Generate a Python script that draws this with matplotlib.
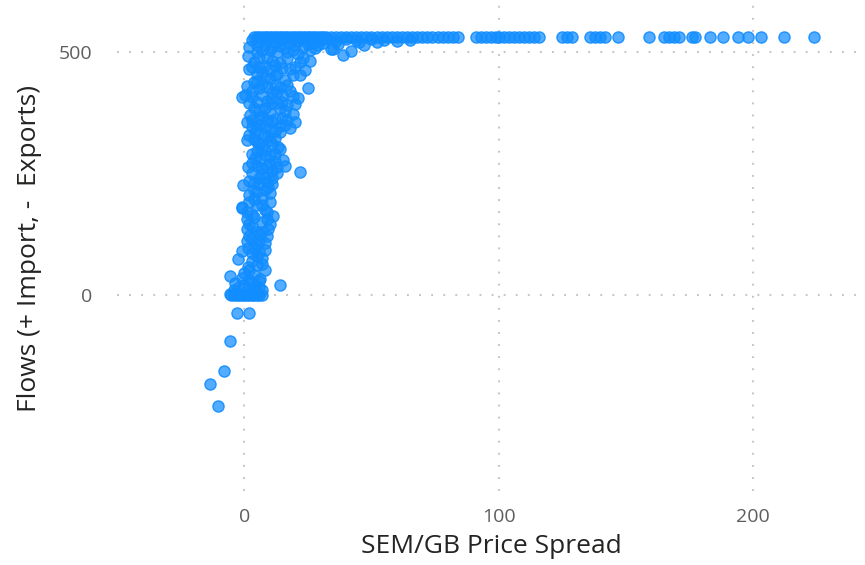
import matplotlib
matplotlib.use("Agg")
import matplotlib.pyplot as plt

# ---- data ----
cap_spread = [4, 5, 6, 7, 8, 9, 10, 11, 12, 13, 14, 15, 16, 17, 18, 19, 20, 21, 22, 23,
              24, 25, 26, 27, 28, 29, 30, 31, 32, 34, 36, 38, 40, 42, 44, 46, 48, 50, 52,
              54, 56, 58, 60, 62, 64, 66, 68, 70, 72, 74, 76, 78, 80, 82, 84, 91, 93, 95,
              97, 99, 100, 102, 104, 106, 108, 110, 112, 114, 116, 125, 127, 129, 136,
              138, 140, 142, 147, 159, 165, 167, 169, 171, 176, 177, 183, 188, 194, 198,
              203, 212, 224]
cap_flow = [530, 530, 530, 530, 530, 530, 530, 530, 530, 530, 530, 530, 530,
            530, 530, 530, 530, 530, 530, 530, 530, 530, 530, 530, 530, 530, 530, 530,
            530, 530, 530, 530, 530, 530, 530, 530, 530, 530, 530, 530, 530, 530, 530,
            530, 530, 530, 530, 530, 530, 530, 530, 530, 530, 530, 530, 530, 530, 530,
            530, 530, 530, 530, 530, 530, 530, 530, 530, 530, 530, 530, 530, 530, 530,
            530, 530, 530, 530, 530, 530, 530, 530, 530, 530, 530, 530, 530, 530, 530,
            530, 530, 530]

upper_spread = [3, 6, 9, 12, 15, 18, 21, 24, 27, 30, 33, 36, 40, 44, 50, 55, 8, 14, 20, 26,
                35, 39, 42, 47, 28, 34, 5, 1.6, 10, 17,
                4, 9, 12, 17, 22, 26, 7, 15, 19, 22, 4, 10, 13, 2, 6, 20, 24, 11, 8, 16,
                2, 5, 7, 11, 13, 16, 19, 23, 25, 29, 31, 37, 45, 52, 60, 65,
                3, 6, 10, 14, 18, 21, 23, 8, 12, 5]
upper_flow = [525, 522, 526, 520, 524, 518, 522, 526, 520, 524, 527, 522, 526, 524, 527, 525,
              515, 512, 514, 504, 506, 494, 502, 514, 508, 506, 500, 492, 505, 500,
              479, 488, 473, 488, 479, 481, 459, 467, 452, 452, 438, 445, 455, 465, 470,
              470, 462, 482, 448, 442,
              510, 515, 505, 510, 500, 508, 505, 510, 516, 515, 518, 517, 520, 520, 522, 524,
              470, 490, 462, 478, 465, 495, 488, 472, 452, 455]

mid_spread = [25, 0.4, -0.8, 3, 5, 21, 17, 2.4, 19, 8, 11, 15, 6, 9, 13, 18, 12, 4, 16, 10,
              7, 14, 20,
              1.2, 20, 18, 1.2, 12, 13.4, 7, 4.3, 6, 9, 15, 10, 3, 8, 14, 11, 5, 16, 12, 7, 9,
              1, 3, 5, 7, 9, 11, 13, 15, 17, 19, 2, 6, 10, 14, 3, 6, 11, 14, 17, 8]
mid_flow = [426, 411, 407, 407, 397, 405, 390, 370, 372, 384, 417, 411, 425, 400, 395, 420,
            432, 385, 378, 375, 412, 428, 392,
            355, 355, 343, 318, 322, 304, 302, 335, 350, 360, 365, 340, 345, 330, 335, 310,
            315, 350, 362, 368, 325,
            430, 420, 440, 435, 428, 405, 418, 398, 432, 410, 395, 380, 392, 385, 360, 365,
            355, 348, 360, 345]

low_spread = [15.3, 16, 1.6, 22, 13, 11, -0.4, 9.4, 4.3, 5, 8, 10, 3, 6, 12, 7, 4, 10, 2, 8,
              6, 11, 5, 9, 3, 7,
              -0.8, -0.8, 11.4, 9.4, 1.2, 8, 2, 5, 8, 4, 7, 2, 6, 3, 9, 5, 10, 1, 4, 7, 3, 6,
              2, 4, 6, 8, 10, 12, 14, 3, 5, 7, 9, 11, 2, 4, 6, 8, 13, 10, 12, 5,
              1, 3, 5, 7, 9, 2, 4, 6, 8, 1, 3, 5, 7, 2, 9, 10]
low_flow = [277, 266, 262, 252, 250, 240, 225, 221, 281, 295, 288, 270, 250, 240, 290, 260,
            230, 210, 205, 215, 275, 255, 212, 232, 272, 200,
            180, 178, 163, 136, 136, 107, 190, 185, 175, 160, 150, 145, 125, 115, 120, 105,
            190, 170, 198, 130, 165, 110,
            330, 320, 310, 298, 285, 275, 300, 290, 265, 248, 262, 228, 235, 215, 228, 242,
            262, 318, 338, 342,
            155, 140, 130, 185, 155, 120, 95, 88, 92, 110, 70, 80, 62, 50, 170, 145]

base_spread = [1.6, -2.4, 7, -5.5, 6.3, 14, -5.5, 4.3, -3.5, 1.6, 3, 5, 0, 2, 4, 8, -1, 6, 0,
               3, -5, -4, -3, -2, -1, 0, 1, 2, 3, 4, 5, 6, 7,
               -4, -2, 1, 3, 5, 7, -1, 4, 6,
               2, -3, -5.5, -8, -13.4, -10.2]
base_flow = [97, 74, 76, 39, 33, 19, 2, 2, 23, 56, 85, 60, 45, 30, 40, 50, 90, 15, 20, 10,
             0, 0, 0, 0, 0, 0, 0, 0, 0, 0, 0, 0, 0,
             10, 15, 8, 25, 5, 10, 35, 15, 28,
             -37, -37, -95, -157, -184, -229]

x_ticks = [0, 100, 200]
y_ticks = [0, 500]
x_label = "SEM/GB Price Spread"
y_label = "Flows (+ Import, -  Exports)"

spread = cap_spread + upper_spread + mid_spread + low_spread + base_spread
flow = cap_flow + upper_flow + mid_flow + low_flow + base_flow

# ---- figure ----
plt.rcParams['font.family'] = ['Open Sans', 'DejaVu Sans']
fig = plt.figure(figsize=(8.65, 5.65), dpi=100)
ax = fig.add_axes([117 / 865, 1 - 491 / 565, (865 - 117) / 865, (491 - 5) / 565])

ax.set_xlim(-50, 244)
ax.set_ylim(-405, 597)

for xv in x_ticks:
    ax.axvline(xv, color='#C8C6C4', lw=1.5, ls=(0, (0.9, 4.9)), zorder=0)
for yv in y_ticks:
    ax.axhline(yv, color='#C8C6C4', lw=1.5, ls=(0, (0.9, 4.9)), zorder=0)

ax.scatter(spread, flow, s=64, facecolor=(0.067, 0.553, 1.0, 0.72),
           edgecolor=(0.067, 0.553, 1.0, 0.9), linewidth=1.0, zorder=3)

for s in ax.spines.values():
    s.set_visible(False)
ax.set_xticks(x_ticks)
ax.set_yticks(y_ticks)
ax.tick_params(length=0, labelsize=14, labelcolor='#605E5C')
ax.tick_params(axis='x', pad=12)
ax.tick_params(axis='y', pad=18)

ax.set_xlabel(x_label, fontsize=19, color='#252423', labelpad=6)
ax.set_ylabel(y_label, fontsize=19, color='#252423', labelpad=12)

fig.savefig("out.png", dpi=100)
